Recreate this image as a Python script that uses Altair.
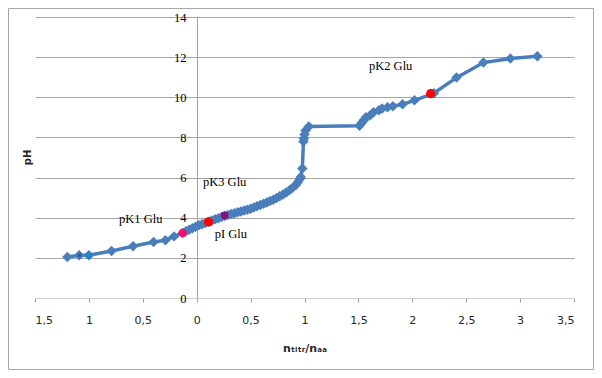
import altair as alt
import pandas as pd

# Main titration curve (n_titr/n_aa, pH)
curve_x = [-1.20, -1.09, -1.00, -0.79, -0.59, -0.40, -0.29, -0.21, -0.13,
           -0.10, -0.07, -0.04, -0.01, 0.02, 0.05, 0.08, 0.11, 0.14, 0.17,
           0.20, 0.23, 0.26, 0.29, 0.32, 0.35, 0.38, 0.41, 0.44, 0.47, 0.50,
           0.53, 0.56, 0.59, 0.62, 0.65, 0.68, 0.71, 0.74, 0.77, 0.80, 0.83,
           0.86, 0.89, 0.92, 0.94, 0.955, 0.965, 0.98, 0.99, 0.995, 1.00,
           1.01, 1.04, 1.51, 1.53, 1.55, 1.57, 1.61, 1.64, 1.69, 1.72, 1.77,
           1.82, 1.91, 2.02, 2.20, 2.41, 2.66, 2.91, 3.16]
curve_y = [2.04, 2.13, 2.13, 2.34, 2.58, 2.79, 2.88, 3.07, 3.24,
           3.33, 3.40, 3.48, 3.55, 3.62, 3.68, 3.74, 3.80, 3.86, 3.92,
           3.97, 4.03, 4.08, 4.13, 4.18, 4.22, 4.27, 4.31, 4.36, 4.40, 4.45,
           4.51, 4.57, 4.63, 4.70, 4.76, 4.83, 4.90, 4.98, 5.07, 5.16, 5.26,
           5.37, 5.49, 5.63, 5.78, 5.92, 6.03, 6.45, 7.80, 7.95, 8.15,
           8.35, 8.55, 8.58, 8.72, 8.85, 9.00, 9.10, 9.25, 9.35, 9.44, 9.50,
           9.55, 9.65, 9.85, 10.20, 10.98, 11.73, 11.93, 12.04]

# Highlighted points
mark_x = [-1.09, -1.00, -0.13, 0.11, 0.26, 2.17]
mark_y = [2.13, 2.12, 3.24, 3.79, 4.12, 10.18]
mark_color = ["#2E5C9A", "#1F86C8", "#FF0A6E", "#FF0000", "#7F1480", "#FF0000"]
mark_size = [15, 50, 70, 85, 60, 85]

# Annotations
label_text = ["pK2 Glu", "pK3 Glu", "pK1 Glu", "pI Glu"]
label_x = [1.598, 0.058, -0.72, 0.167]
label_y = [11.56, 5.78, 3.96, 3.21]

x_ticks = [-1.5, -1.0, -0.5, 0.0, 0.5, 1.0, 1.5, 2.0, 2.5, 3.0, 3.5]
y_ticks = [0, 2, 4, 6, 8, 10, 12, 14]

curve = pd.DataFrame({"x": curve_x, "y": curve_y, "i": range(len(curve_x))})
marks = pd.DataFrame({"x": mark_x, "y": mark_y, "c": mark_color, "s": mark_size})
labels = pd.DataFrame({"x": label_x, "y": label_y, "t": label_text})

xscale = alt.Scale(domain=[-1.5, 3.5], nice=False, zero=False)
yscale = alt.Scale(domain=[0, 14], nice=False)

x_axis = alt.Axis(
    values=x_ticks,
    labelExpr="replace(format(abs(datum.value), '~g'), '.', ',')",
    grid=False,
    domainColor="#CFCFCF",
    tickColor="#A0A0A0",
    tickSize=4,
    labelFont="DejaVu Sans",
    labelFontSize=11,
    labelColor="#262626",
    labelPadding=12,
    title="nₜᵢₜᵣ/nₐₐ",
    titleFont="DejaVu Sans",
    titleFontSize=11,
    titleFontWeight="bold",
    titleColor="#262626",
    titleY=50,
    titleBaseline="middle",
)

y_axis = alt.Axis(
    values=y_ticks,
    offset=-162,
    grid=True,
    gridColor={"condition": {"test": "datum.value === 0", "value": "transparent"}, "value": "#A6A6A6"},
    domainColor="#A0A0A0",
    ticks=False,
    labelFont="Liberation Serif",
    labelFontSize=12.5,
    labelColor="#000000",
    labelPadding=11,
    title="pH",
    titleFont="DejaVu Sans",
    titleFontSize=10,
    titleFontWeight="bold",
    titleColor="#262626",
    titleX=-170,
    titleY=140,
    titleAngle=270,
    titleAlign="center",
    titleBaseline="middle",
)

line = alt.Chart(curve).mark_line(
    color="#4A7EBB", strokeWidth=3.5,
    point=alt.OverlayMarkDef(shape="diamond", size=110, filled=True, color="#4A7EBB", opacity=1),
).encode(
    x=alt.X("x:Q", scale=xscale, axis=x_axis),
    y=alt.Y("y:Q", scale=yscale, axis=y_axis),
    order=alt.Order("i:Q"),
)

pts = alt.Chart(marks).mark_point(filled=True, shape="circle", opacity=1).encode(
    x=alt.X("x:Q", scale=xscale),
    y=alt.Y("y:Q", scale=yscale),
    color=alt.Color("c:N", scale=None),
    size=alt.Size("s:Q", scale=None),
)

txt = alt.Chart(labels).mark_text(
    font="Liberation Serif", fontSize=12.5, color="#000000", align="left", baseline="middle"
).encode(
    x=alt.X("x:Q", scale=xscale),
    y=alt.Y("y:Q", scale=yscale),
    text="t:N",
)

frame = alt.Chart(pd.DataFrame({"a": [0]})).mark_rect(
    fill="transparent", stroke="#A6A6A6", strokeWidth=1
).encode(
    x=alt.value(-26.5), x2=alt.value(558.5), y=alt.value(-8.5), y2=alt.value(352.5)
)

chart = alt.layer(frame, line, pts, txt).properties(
    width=539, height=281,
    padding={"left": 27, "top": 9, "right": 20, "bottom": 72},
    autosize=alt.AutoSizeParams(type="none"),
).configure_view(stroke=None)

chart.save("out.html", embed_options={"renderer": "svg", "actions": False})
